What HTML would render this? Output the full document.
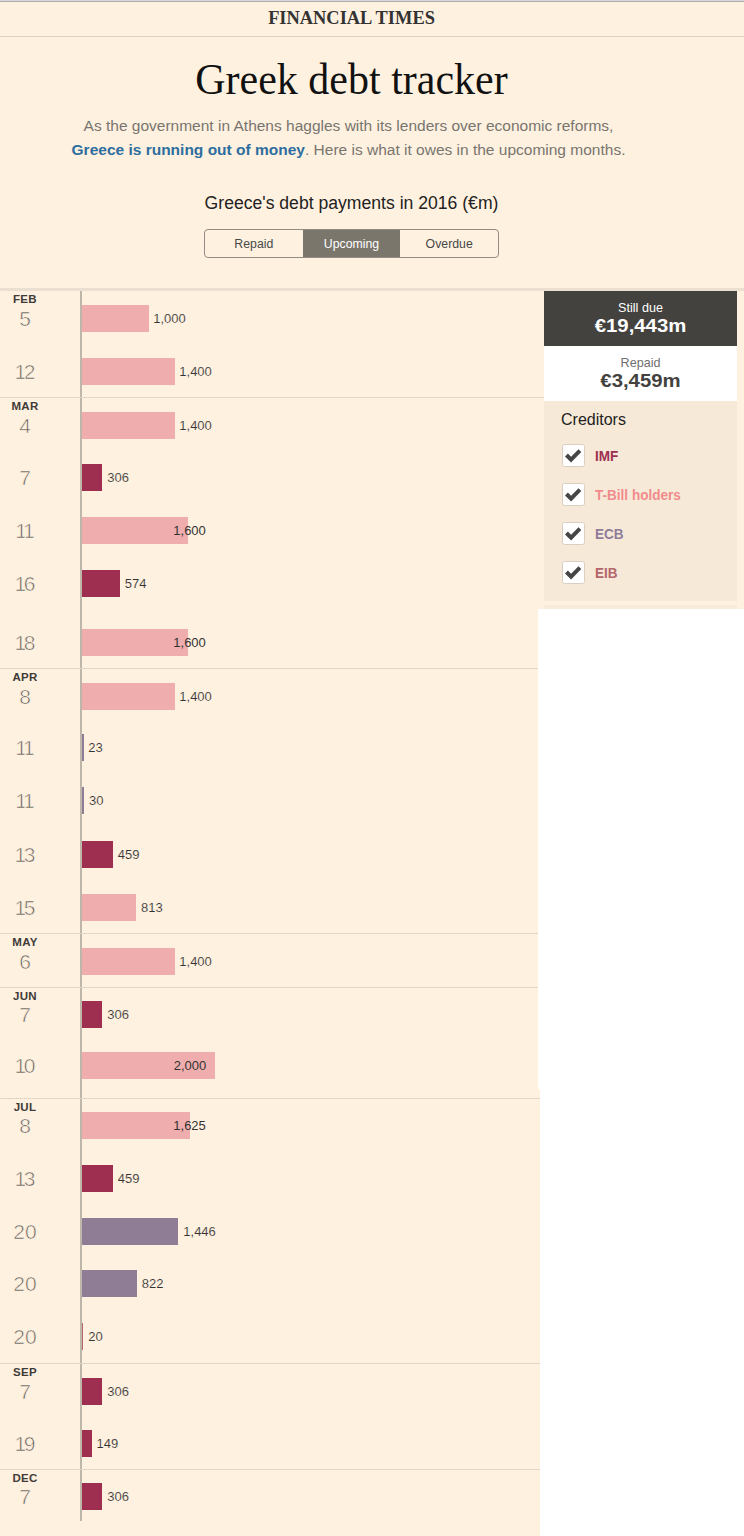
<!DOCTYPE html>
<html><head><meta charset="utf-8"><title>Greek debt tracker</title>
<style>
*{margin:0;padding:0;box-sizing:border-box}
html,body{width:744px;height:1536px;overflow:hidden;background:#fff1e0}
body{position:relative;font-family:"Liberation Sans",sans-serif;color:#333}
.abs{position:absolute}
.topline1{position:absolute;left:0;top:0;width:744px;height:1px;background:#d6d6dc}
.topline2{position:absolute;left:0;top:1px;width:744px;height:1px;background:#b0aeac}
.hdrline{position:absolute;left:0;top:36px;width:744px;height:1px;background:#d9cfc2}
.ft{position:absolute;left:0;top:7px;width:703px;text-align:center;font-family:"Liberation Serif",serif;font-weight:700;font-size:18.4px;line-height:22px;color:#333}
.title{position:absolute;left:0;top:52px;width:703px;text-align:center;font-family:"Liberation Serif",serif;font-weight:400;font-size:42px;line-height:56px;color:#111;transform:scaleY(1.07);transform-origin:50% 75%}
.p{position:absolute;left:0;width:697px;text-align:center;font-size:15.5px;line-height:24px;color:#77756f;white-space:nowrap}
.p b{color:#2e6e9e;font-weight:700}
.sub{position:absolute;left:0;top:192px;width:703px;text-align:center;font-size:17.6px;line-height:22px;color:#222;white-space:nowrap}
.btns{position:absolute;left:204px;top:229px;width:295px;height:29px;border:1px solid #938c82;border-radius:4px;overflow:hidden;background:#fff1e0;display:flex}
.btns div{flex:1;text-align:center;font-size:12.3px;line-height:28px;color:#484848}
.btns div.on{background:#7a766c;color:#fff}
.chartTop{position:absolute;left:0;top:288px;width:744px;height:3px;background:#eadfd0}
.axis{position:absolute;left:80px;top:291px;width:2px;height:1230px;background:#beb6a9}
.sep{position:absolute;left:0;width:544px;height:1px;background:repeating-linear-gradient(90deg,#d8ccbc 0,#d8ccbc 1px,#ede0cf 1px,#ede0cf 2px)}
.mon{position:absolute;left:0;width:50px;text-align:center;font-size:11.5px;letter-spacing:0.3px;font-weight:700;line-height:14px;color:#403b38}
.day{position:absolute;left:0;width:50px;text-align:center;font-size:21px;line-height:26px;color:#5e5c57;-webkit-text-stroke:0.65px #fff1e0}
.bar{position:absolute;left:82px;height:27px}
.val{position:absolute;font-size:13px;line-height:16px;color:#333;white-space:nowrap}
.val.t{-webkit-text-stroke:0.12px #fff1e0}
.due{position:absolute;left:544px;top:291px;width:193px;height:55px;background:#43423e;color:#fff;text-align:center}
.rep{position:absolute;left:544px;top:346px;width:193px;height:55px;background:#fff;color:#43423e;text-align:center}
.due .s,.rep .s{position:absolute;left:0;width:193px;font-size:12.6px;line-height:20px}
.rep .s{color:#6f6f6f}
.due .b,.rep .b{position:absolute;left:0;width:193px;font-size:19px;font-weight:700;line-height:20px;transform:scaleX(1.07)}
.due .s{top:7.2px}.due .b{top:25.2px}.rep .s{top:7px}.rep .b{top:24.7px}
.cred{position:absolute;left:544px;top:401px;width:193px;height:200px;background:#f6e9d8}
.strip{position:absolute;left:544px;top:605px;width:193px;height:4px;background:#f8ebda}
.white1{position:absolute;left:538px;top:609px;width:206px;height:480px;background:#fff}
.white2{position:absolute;left:540px;top:1088px;width:204px;height:448px;background:#fff}
.ctitle{position:absolute;left:561px;top:411px;font-size:16px;line-height:18px;color:#222}
.cb{position:absolute;left:562px;width:23px;height:23px;background:#fff;border:1px solid #d9d0c3;border-radius:2.5px}
.cb svg{position:absolute;left:0;top:0;width:21px;height:21px}
.cl{position:absolute;left:595px;font-size:14.5px;font-weight:700;line-height:16px;white-space:nowrap;transform:scaleX(0.935);transform-origin:0 50%}
</style></head><body>
<div class="topline1"></div><div class="topline2"></div>
<div class="ft">FINANCIAL TIMES</div>
<div class="hdrline"></div>
<div class="title">Greek debt tracker</div>
<div class="p" style="top:114px">As the government in Athens haggles with its lenders over economic reforms,</div>
<div class="p" style="top:138px"><b>Greece is running out of money</b>. Here is what it owes in the upcoming months.</div>
<div class="sub">Greece's debt payments in 2016 (&euro;m)</div>
<div class="btns"><div>Repaid</div><div class="on">Upcoming</div><div>Overdue</div></div>
<div class="chartTop"></div>
<div class="axis"></div>
<div class="mon" style="top:292px">FEB</div>
<div class="day" style="top:305.5px">5</div>
<div class="bar" style="top:304.5px;width:66.5px;background:#efadad"></div>
<div class="val t" style="top:310.5px;left:153.2px">1,000</div>
<div class="day" style="top:359px;letter-spacing:-2.3px;text-indent:-2.3px">12</div>
<div class="bar" style="top:358px;width:93.1px;background:#efadad"></div>
<div class="val t" style="top:364px;left:179.3px">1,400</div>
<div class="sep" style="top:397px"></div>
<div class="mon" style="top:399px">MAR</div>
<div class="day" style="top:412.5px">4</div>
<div class="bar" style="top:411.5px;width:93.1px;background:#efadad"></div>
<div class="val t" style="top:417.5px;left:179.3px">1,400</div>
<div class="day" style="top:464.5px">7</div>
<div class="bar" style="top:463.5px;width:20.3px;background:#9e2f50"></div>
<div class="val t" style="top:469.5px;left:107.3px">306</div>
<div class="day" style="top:517.5px;letter-spacing:-2.3px;text-indent:-2.3px">11</div>
<div class="bar" style="top:516.5px;width:106.4px;background:#efadad"></div>
<div class="val" style="top:522.5px;left:173.3px">1,600</div>
<div class="day" style="top:571px;letter-spacing:-2.3px;text-indent:-2.3px">16</div>
<div class="bar" style="top:570px;width:38.2px;background:#9e2f50"></div>
<div class="val t" style="top:576px;left:124.7px">574</div>
<div class="day" style="top:629.5px;letter-spacing:-2.3px;text-indent:-2.3px">18</div>
<div class="bar" style="top:628.5px;width:106.4px;background:#efadad"></div>
<div class="val" style="top:634.5px;left:173.3px">1,600</div>
<div class="sep" style="top:668px"></div>
<div class="mon" style="top:670px">APR</div>
<div class="day" style="top:683.5px">8</div>
<div class="bar" style="top:682.5px;width:93.1px;background:#efadad"></div>
<div class="val t" style="top:688.5px;left:179.3px">1,400</div>
<div class="day" style="top:735px;letter-spacing:-2.3px;text-indent:-2.3px">11</div>
<div class="bar" style="top:734px;width:1.5px;background:#8f7d95"></div>
<div class="val t" style="top:740px;left:88.3px">23</div>
<div class="day" style="top:788px;letter-spacing:-2.3px;text-indent:-2.3px">11</div>
<div class="bar" style="top:787px;width:2.0px;background:#8f7d95"></div>
<div class="val t" style="top:793px;left:89px">30</div>
<div class="day" style="top:841.5px;letter-spacing:-2.3px;text-indent:-2.3px">13</div>
<div class="bar" style="top:840.5px;width:30.5px;background:#9e2f50"></div>
<div class="val t" style="top:846.5px;left:117.7px">459</div>
<div class="day" style="top:894.5px;letter-spacing:-2.3px;text-indent:-2.3px">15</div>
<div class="bar" style="top:893.5px;width:54.1px;background:#efadad"></div>
<div class="val t" style="top:899.5px;left:141px">813</div>
<div class="sep" style="top:933px"></div>
<div class="mon" style="top:935px">MAY</div>
<div class="day" style="top:948.5px">6</div>
<div class="bar" style="top:947.5px;width:93.1px;background:#efadad"></div>
<div class="val t" style="top:953.5px;left:179.3px">1,400</div>
<div class="sep" style="top:987px"></div>
<div class="mon" style="top:989px">JUN</div>
<div class="day" style="top:1001.5px">7</div>
<div class="bar" style="top:1000.5px;width:20.3px;background:#9e2f50"></div>
<div class="val t" style="top:1006.5px;left:107.3px">306</div>
<div class="day" style="top:1053px;letter-spacing:-2.3px;text-indent:-2.3px">10</div>
<div class="bar" style="top:1052px;width:133.0px;background:#efadad"></div>
<div class="val" style="top:1058px;left:173.7px">2,000</div>
<div class="sep" style="top:1098px"></div>
<div class="mon" style="top:1100px">JUL</div>
<div class="day" style="top:1113px">8</div>
<div class="bar" style="top:1112px;width:108.1px;background:#efadad"></div>
<div class="val" style="top:1118px;left:173.3px">1,625</div>
<div class="day" style="top:1165.5px;letter-spacing:-2.3px;text-indent:-2.3px">13</div>
<div class="bar" style="top:1164.5px;width:30.5px;background:#9e2f50"></div>
<div class="val t" style="top:1170.5px;left:117.7px">459</div>
<div class="day" style="top:1218.5px">20</div>
<div class="bar" style="top:1217.5px;width:96.2px;background:#8f7d95"></div>
<div class="val t" style="top:1223.5px;left:183.3px">1,446</div>
<div class="day" style="top:1271px">20</div>
<div class="bar" style="top:1270px;width:54.7px;background:#8f7d95"></div>
<div class="val t" style="top:1276px;left:141.7px">822</div>
<div class="day" style="top:1324px">20</div>
<div class="bar" style="top:1323px;width:1.3px;background:#b5656b"></div>
<div class="val t" style="top:1329px;left:88.3px">20</div>
<div class="sep" style="top:1363px"></div>
<div class="mon" style="top:1365px">SEP</div>
<div class="day" style="top:1378.5px">7</div>
<div class="bar" style="top:1377.5px;width:20.3px;background:#9e2f50"></div>
<div class="val t" style="top:1383.5px;left:107.3px">306</div>
<div class="day" style="top:1431px;letter-spacing:-2.3px;text-indent:-2.3px">19</div>
<div class="bar" style="top:1430px;width:9.9px;background:#9e2f50"></div>
<div class="val t" style="top:1436px;left:96.5px">149</div>
<div class="sep" style="top:1469px"></div>
<div class="mon" style="top:1471px">DEC</div>
<div class="day" style="top:1484px">7</div>
<div class="bar" style="top:1483px;width:20.3px;background:#9e2f50"></div>
<div class="val t" style="top:1489px;left:107.3px">306</div>
<div class="white1"></div><div class="white2"></div>
<div class="due"><div class="s">Still due</div><div class="b">&euro;19,443m</div></div>
<div class="rep"><div class="s">Repaid</div><div class="b">&euro;3,459m</div></div>
<div class="cred"></div>
<div class="strip"></div>
<div class="ctitle">Creditors</div>
<div class="cb" style="top:444px"><svg viewBox="0 0 21 21"><polygon points="2.0,11.5 4.9,8.6 8.1,11.8 15.5,4.3 18.3,7.0 8.1,17.4" fill="#454545"/></svg></div><div class="cl" style="top:448px;color:#9e2f50">IMF</div>
<div class="cb" style="top:483px"><svg viewBox="0 0 21 21"><polygon points="2.0,11.5 4.9,8.6 8.1,11.8 15.5,4.3 18.3,7.0 8.1,17.4" fill="#454545"/></svg></div><div class="cl" style="top:487px;color:#f28b8b">T-Bill holders</div>
<div class="cb" style="top:522px"><svg viewBox="0 0 21 21"><polygon points="2.0,11.5 4.9,8.6 8.1,11.8 15.5,4.3 18.3,7.0 8.1,17.4" fill="#454545"/></svg></div><div class="cl" style="top:526px;color:#8f7d99">ECB</div>
<div class="cb" style="top:560.5px"><svg viewBox="0 0 21 21"><polygon points="2.0,11.5 4.9,8.6 8.1,11.8 15.5,4.3 18.3,7.0 8.1,17.4" fill="#454545"/></svg></div><div class="cl" style="top:564.5px;color:#b5656b">EIB</div>

</body></html>
